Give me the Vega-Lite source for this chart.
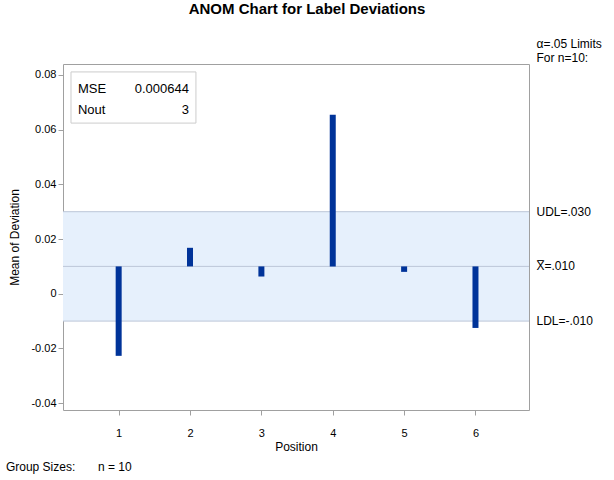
{
  "$schema": "https://vega.github.io/schema/vega-lite/v6.json",
  "width": 466,
  "height": 346,
  "autosize": "none",
  "padding": {"left": 63, "top": 64, "right": 85, "bottom": 70},
  "background": "white",
  "config": {
    "font": "Liberation Sans",
    "view": {"stroke": "#a0a0a0", "strokeWidth": 1},
    "axis": {"grid": false, "domain": false, "tickColor": "#a0a0a0", "tickSize": 5, "labelFont": "Liberation Sans", "labelFontSize": 11, "labelColor": "#000000", "titleFont": "Liberation Sans", "titleFontSize": 12, "titleFontWeight": "normal", "titleColor": "#000000"}
  },
  "title": {"text": "ANOM Chart for Label Deviations", "anchor": "middle", "dx": 11, "offset": 21, "fontSize": 15, "fontWeight": "bold", "font": "Liberation Sans", "color": "#000000"},
  "datasets": {
    "means": [
      {"pos": 1, "mean": -0.0227, "center": 0.010},
      {"pos": 2, "mean": 0.0168, "center": 0.010},
      {"pos": 3, "mean": 0.0063, "center": 0.010},
      {"pos": 4, "mean": 0.0654, "center": 0.010},
      {"pos": 5, "mean": 0.0080, "center": 0.010},
      {"pos": 6, "mean": -0.0125, "center": 0.010}
    ],
    "band": [{"x1": 0.22, "x2": 6.75, "ldl": -0.010, "udl": 0.030}],
    "limits": [
      {"label": "UDL=.030", "value": 0.030, "x": 6.855},
      {"label": "X̅=.010", "value": 0.010, "x": 6.855},
      {"label": "LDL=-.010", "value": -0.010, "x": 6.855}
    ],
    "notes": [
      {"label": "α=.05 Limits", "x": 6.855, "y": 0.0913},
      {"label": "For n=10:", "x": 6.855, "y": 0.0862}
    ],
    "footer": [
      {"label": "Group Sizes:", "x": -0.58, "y": -0.0633},
      {"label": "n = 10", "x": 0.71, "y": -0.0633}
    ],
    "inset": [{"x1": 0.332, "x2": 2.083, "y1": 0.0811, "y2": 0.0624}],
    "insetLeft": [
      {"label": "MSE", "x": 0.43, "y": 0.0750},
      {"label": "Nout", "x": 0.43, "y": 0.0670}
    ],
    "insetRight": [
      {"label": "0.000644", "x": 1.985, "y": 0.0750},
      {"label": "3", "x": 1.985, "y": 0.0670}
    ]
  },
  "layer": [
    {
      "data": {"name": "band"},
      "mark": {"type": "rect", "color": "#e6f0fc"},
      "encoding": {
        "x": {"field": "x1", "type": "quantitative", "scale": {"domain": [0.22, 6.75], "nice": false, "zero": false}, "axis": {"values": [1, 2, 3, 4, 5, 6], "title": "Position", "labelPadding": 12, "titlePadding": 3, "format": "d"}},
        "x2": {"field": "x2"},
        "y": {"field": "ldl", "type": "quantitative", "scale": {"domain": [-0.0425, 0.084], "nice": false, "zero": false}, "axis": {"values": [-0.04, -0.02, 0, 0.02, 0.04, 0.06, 0.08], "title": "Mean of Deviation", "labelPadding": 2, "titlePadding": 9, "labelExpr": "datum.value == 0 ? '0' : replace(format(datum.value, '.2f'), '\u2212', '-')"}},
        "y2": {"field": "udl"}
      }
    },
    {
      "data": {"name": "limits"},
      "mark": {"type": "rule", "color": "#bcc6d8", "strokeWidth": 1},
      "encoding": {"y": {"field": "value", "type": "quantitative"}}
    },
    {
      "data": {"name": "limits"},
      "mark": {"type": "text", "align": "left", "baseline": "middle", "fontSize": 12, "clip": false, "color": "#000000"},
      "encoding": {"x": {"field": "x", "type": "quantitative"}, "y": {"field": "value", "type": "quantitative"}, "text": {"field": "label"}}
    },
    {
      "data": {"name": "notes"},
      "mark": {"type": "text", "align": "left", "baseline": "middle", "fontSize": 12, "clip": false, "color": "#000000"},
      "encoding": {"x": {"field": "x", "type": "quantitative"}, "y": {"field": "y", "type": "quantitative"}, "text": {"field": "label"}}
    },
    {
      "data": {"name": "footer"},
      "mark": {"type": "text", "align": "left", "baseline": "middle", "fontSize": 12, "clip": false, "color": "#000000"},
      "encoding": {"x": {"field": "x", "type": "quantitative"}, "y": {"field": "y", "type": "quantitative"}, "text": {"field": "label"}}
    },
    {
      "data": {"name": "means"},
      "mark": {"type": "rule", "color": "#003399", "strokeWidth": 6, "strokeCap": "butt"},
      "encoding": {"x": {"field": "pos", "type": "quantitative"}, "y": {"field": "center", "type": "quantitative"}, "y2": {"field": "mean"}}
    },
    {
      "data": {"name": "inset"},
      "mark": {"type": "rect", "fill": "white", "stroke": "#cccccc", "strokeWidth": 1},
      "encoding": {"x": {"field": "x1", "type": "quantitative"}, "x2": {"field": "x2"}, "y": {"field": "y1", "type": "quantitative"}, "y2": {"field": "y2"}}
    },
    {
      "data": {"name": "insetLeft"},
      "mark": {"type": "text", "align": "left", "baseline": "middle", "fontSize": 13, "color": "#000000"},
      "encoding": {"x": {"field": "x", "type": "quantitative"}, "y": {"field": "y", "type": "quantitative"}, "text": {"field": "label"}}
    },
    {
      "data": {"name": "insetRight"},
      "mark": {"type": "text", "align": "right", "baseline": "middle", "fontSize": 13, "color": "#000000"},
      "encoding": {"x": {"field": "x", "type": "quantitative"}, "y": {"field": "y", "type": "quantitative"}, "text": {"field": "label"}}
    }
  ]
}
